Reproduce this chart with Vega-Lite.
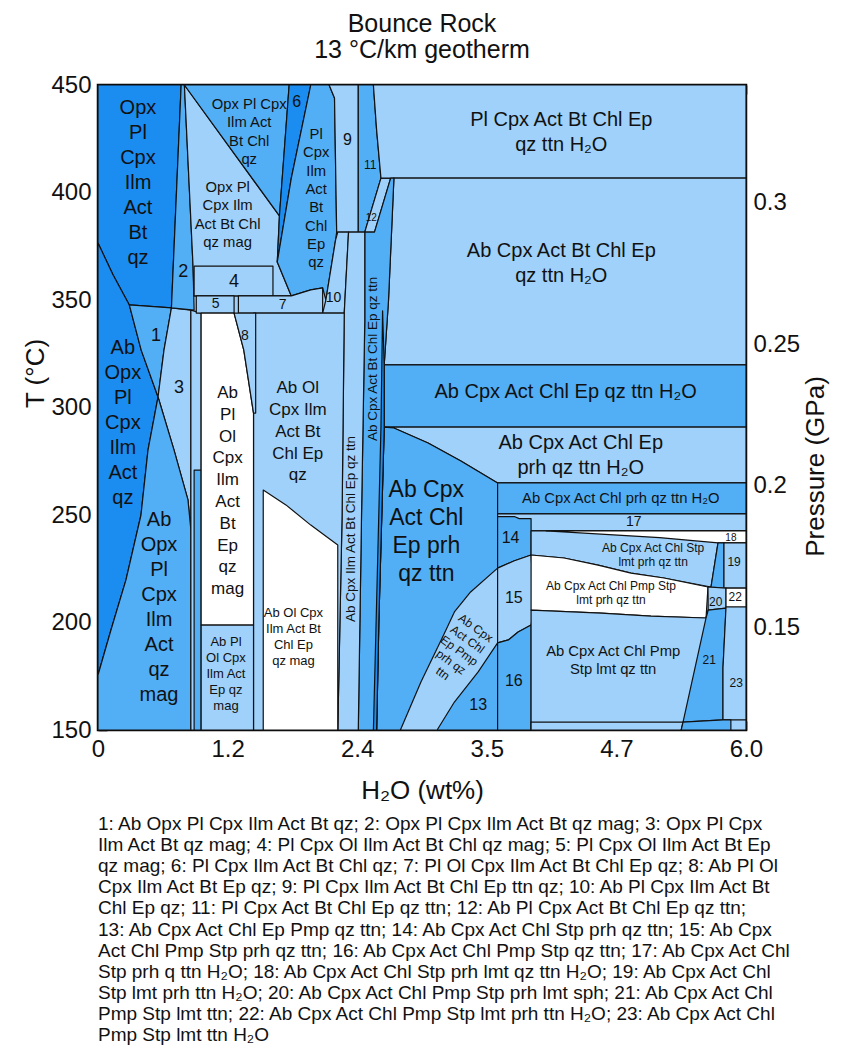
{
  "$schema": "https://vega.github.io/schema/vega-lite/v6.json",
  "background": "white",
  "padding": {"left": 21, "top": 10, "right": 5, "bottom": 5},
  "config": {
    "font": "Liberation Sans",
    "view": {"stroke": "#000", "strokeWidth": 2.5},
    "axis": {
      "grid": false, "domain": false, "ticks": true, "tickColor": "#000", "tickWidth": 1.6, "tickSize": -9,
      "labelFont": "Liberation Sans", "labelFontSize": 24, "labelColor": "#111", "labelPadding": 16,
      "labelFlush": false, "labelOverlap": false,
      "titleFont": "Liberation Sans", "titleFontSize": 26, "titleFontWeight": "normal", "titleColor": "#111"
    },
    "title": {"font": "Liberation Sans", "fontSize": 25, "fontWeight": "normal", "color": "#111"}
  },
  "datasets": {
    "regions": [
      {"id":"r01","tone":"L","i":0,"x":0,"T":450},{"id":"r01","tone":"L","i":1,"x":6,"T":450},{"id":"r01","tone":"L","i":2,"x":6,"T":150},{"id":"r01","tone":"L","i":3,"x":0,"T":150},
      {"id":"r02","tone":"D","i":0,"x":0,"T":450},{"id":"r02","tone":"D","i":1,"x":0.77,"T":450},{"id":"r02","tone":"D","i":2,"x":0.68,"T":346.3},{"id":"r02","tone":"D","i":3,"x":0.29,"T":347.7},{"id":"r02","tone":"D","i":4,"x":0.14,"T":361.6},{"id":"r02","tone":"D","i":5,"x":0,"T":376.5},
      {"id":"r03","tone":"D","i":0,"x":0,"T":376.5},{"id":"r03","tone":"D","i":1,"x":0.14,"T":361.6},{"id":"r03","tone":"D","i":2,"x":0.29,"T":347.7},{"id":"r03","tone":"D","i":3,"x":0.4,"T":326.7},{"id":"r03","tone":"D","i":4,"x":0.556,"T":304.9},{"id":"r03","tone":"D","i":5,"x":0.463,"T":280.2},{"id":"r03","tone":"D","i":6,"x":0.398,"T":250},{"id":"r03","tone":"D","i":7,"x":0.259,"T":219.8},{"id":"r03","tone":"D","i":8,"x":0.12,"T":196.5},{"id":"r03","tone":"D","i":9,"x":0,"T":175.6},
      {"id":"r04","tone":"M","i":0,"x":0.29,"T":347.7},{"id":"r04","tone":"M","i":1,"x":0.68,"T":346.3},{"id":"r04","tone":"M","i":2,"x":0.611,"T":326.7},{"id":"r04","tone":"M","i":3,"x":0.556,"T":304.9},{"id":"r04","tone":"M","i":4,"x":0.4,"T":326.7},
      {"id":"r05","tone":"L","i":0,"x":0.68,"T":346.3},{"id":"r05","tone":"L","i":1,"x":0.86,"T":345.3},{"id":"r05","tone":"L","i":2,"x":0.86,"T":243},{"id":"r05","tone":"L","i":3,"x":0.833,"T":257},{"id":"r05","tone":"L","i":4,"x":0.704,"T":280.2},{"id":"r05","tone":"L","i":5,"x":0.556,"T":304.9},{"id":"r05","tone":"L","i":6,"x":0.611,"T":326.7},
      {"id":"r06","tone":"M","i":0,"x":0.556,"T":304.9},{"id":"r06","tone":"M","i":1,"x":0.704,"T":280.2},{"id":"r06","tone":"M","i":2,"x":0.833,"T":257},{"id":"r06","tone":"M","i":3,"x":0.86,"T":243},{"id":"r06","tone":"M","i":4,"x":0.86,"T":150},{"id":"r06","tone":"M","i":5,"x":0,"T":150},{"id":"r06","tone":"M","i":6,"x":0,"T":175.6},{"id":"r06","tone":"M","i":7,"x":0.12,"T":196.5},{"id":"r06","tone":"M","i":8,"x":0.259,"T":219.8},{"id":"r06","tone":"M","i":9,"x":0.398,"T":250},{"id":"r06","tone":"M","i":10,"x":0.463,"T":280.2},
      {"id":"r07","tone":"L","i":0,"x":0.86,"T":345.3},{"id":"r07","tone":"L","i":1,"x":0.955,"T":343.9},{"id":"r07","tone":"L","i":2,"x":0.955,"T":150},{"id":"r07","tone":"L","i":3,"x":0.86,"T":150},
      {"id":"r08","tone":"M","i":0,"x":0.89,"T":270.9},{"id":"r08","tone":"M","i":1,"x":0.955,"T":270.9},{"id":"r08","tone":"M","i":2,"x":0.955,"T":150},{"id":"r08","tone":"M","i":3,"x":0.89,"T":150},
      {"id":"r09","tone":"M","i":0,"x":0.77,"T":450},{"id":"r09","tone":"M","i":1,"x":0.8,"T":450},{"id":"r09","tone":"M","i":2,"x":0.88,"T":365.8},{"id":"r09","tone":"M","i":3,"x":0.89,"T":345.3},{"id":"r09","tone":"M","i":4,"x":0.68,"T":346.3},
      {"id":"r10","tone":"L","i":0,"x":0.8,"T":450},{"id":"r10","tone":"L","i":1,"x":1.68,"T":389.1},{"id":"r10","tone":"L","i":2,"x":1.66,"T":367.7},{"id":"r10","tone":"L","i":3,"x":1.79,"T":351.9},{"id":"r10","tone":"L","i":4,"x":0.89,"T":351.9},{"id":"r10","tone":"L","i":5,"x":0.88,"T":365.8},
      {"id":"r11","tone":"M","i":0,"x":0.8,"T":450},{"id":"r11","tone":"M","i":1,"x":1.77,"T":450},{"id":"r11","tone":"M","i":2,"x":1.68,"T":389.1},
      {"id":"r12","tone":"D","i":0,"x":1.77,"T":450},{"id":"r12","tone":"D","i":1,"x":1.97,"T":450},{"id":"r12","tone":"D","i":2,"x":1.79,"T":406.7},{"id":"r12","tone":"D","i":3,"x":1.66,"T":367.7},{"id":"r12","tone":"D","i":4,"x":1.68,"T":389.1},
      {"id":"r13","tone":"M","i":0,"x":1.97,"T":450},{"id":"r13","tone":"M","i":1,"x":2.14,"T":450},{"id":"r13","tone":"M","i":2,"x":2.19,"T":444},{"id":"r13","tone":"M","i":3,"x":2.21,"T":381.6},{"id":"r13","tone":"M","i":4,"x":2.2,"T":378},{"id":"r13","tone":"M","i":5,"x":2.11,"T":350},{"id":"r13","tone":"M","i":6,"x":2.08,"T":355.6},{"id":"r13","tone":"M","i":7,"x":1.97,"T":354.7},{"id":"r13","tone":"M","i":8,"x":1.79,"T":351.9},{"id":"r13","tone":"M","i":9,"x":1.66,"T":367.7},{"id":"r13","tone":"M","i":10,"x":1.79,"T":406.7},
      {"id":"r14","tone":"L","i":0,"x":0.89,"T":365.8},{"id":"r14","tone":"L","i":1,"x":1.62,"T":365.8},{"id":"r14","tone":"L","i":2,"x":1.62,"T":351.9},{"id":"r14","tone":"L","i":3,"x":0.89,"T":351.9},
      {"id":"r15","tone":"L","i":0,"x":0.91,"T":351.9},{"id":"r15","tone":"L","i":1,"x":1.26,"T":351.9},{"id":"r15","tone":"L","i":2,"x":1.26,"T":343.9},{"id":"r15","tone":"L","i":3,"x":0.91,"T":343.9},
      {"id":"r16","tone":"L","i":0,"x":1.3,"T":351.9},{"id":"r16","tone":"L","i":1,"x":1.79,"T":351.9},{"id":"r16","tone":"L","i":2,"x":1.97,"T":354.7},{"id":"r16","tone":"L","i":3,"x":2.08,"T":355.6},{"id":"r16","tone":"L","i":4,"x":2.08,"T":343.9},{"id":"r16","tone":"L","i":5,"x":1.3,"T":343.9},
      {"id":"r17","tone":"L","i":0,"x":2.14,"T":450},{"id":"r17","tone":"L","i":1,"x":2.41,"T":450},{"id":"r17","tone":"L","i":2,"x":2.41,"T":381.6},{"id":"r17","tone":"L","i":3,"x":2.21,"T":381.6},{"id":"r17","tone":"L","i":4,"x":2.19,"T":444},
      {"id":"r18","tone":"M","i":0,"x":2.41,"T":450},{"id":"r18","tone":"M","i":1,"x":2.55,"T":450},{"id":"r18","tone":"M","i":2,"x":2.58,"T":429},{"id":"r18","tone":"M","i":3,"x":2.62,"T":406.7},{"id":"r18","tone":"M","i":4,"x":2.47,"T":381.6},{"id":"r18","tone":"M","i":5,"x":2.41,"T":381.6},
      {"id":"r19","tone":"L","i":0,"x":2.62,"T":406.7},{"id":"r19","tone":"L","i":1,"x":2.71,"T":406.7},{"id":"r19","tone":"L","i":2,"x":2.56,"T":381.6},{"id":"r19","tone":"L","i":3,"x":2.47,"T":381.6},
      {"id":"r20","tone":"L","i":0,"x":2.55,"T":450},{"id":"r20","tone":"L","i":1,"x":6,"T":450},{"id":"r20","tone":"L","i":2,"x":6,"T":406.7},{"id":"r20","tone":"L","i":3,"x":2.62,"T":406.7},{"id":"r20","tone":"L","i":4,"x":2.58,"T":429},
      {"id":"r21","tone":"L","i":0,"x":2.74,"T":406.7},{"id":"r21","tone":"L","i":1,"x":6,"T":406.7},{"id":"r21","tone":"L","i":2,"x":6,"T":319.8},{"id":"r21","tone":"L","i":3,"x":2.65,"T":319.8},{"id":"r21","tone":"L","i":4,"x":2.69,"T":350},
      {"id":"r22","tone":"M","i":0,"x":2.65,"T":319.8},{"id":"r22","tone":"M","i":1,"x":6,"T":319.8},{"id":"r22","tone":"M","i":2,"x":6,"T":290.9},{"id":"r22","tone":"M","i":3,"x":2.65,"T":290.9},
      {"id":"r23","tone":"L","i":0,"x":2.65,"T":290.9},{"id":"r23","tone":"L","i":1,"x":6,"T":290.9},{"id":"r23","tone":"L","i":2,"x":6,"T":264.9},{"id":"r23","tone":"L","i":3,"x":3.7,"T":264.9},{"id":"r23","tone":"L","i":4,"x":3.36,"T":275.1},{"id":"r23","tone":"L","i":5,"x":3.056,"T":283.5},{"id":"r23","tone":"L","i":6,"x":2.74,"T":290.5},
      {"id":"r24","tone":"M","i":0,"x":2.65,"T":290.9},{"id":"r24","tone":"M","i":1,"x":2.74,"T":290.5},{"id":"r24","tone":"M","i":2,"x":3.056,"T":283.5},{"id":"r24","tone":"M","i":3,"x":3.36,"T":275.1},{"id":"r24","tone":"M","i":4,"x":3.7,"T":264.9},{"id":"r24","tone":"M","i":5,"x":3.7,"T":150},{"id":"r24","tone":"M","i":6,"x":2.58,"T":150},{"id":"r24","tone":"M","i":7,"x":2.6,"T":200},
      {"id":"r25","tone":"M","i":0,"x":2.71,"T":406.7},{"id":"r25","tone":"M","i":1,"x":2.74,"T":406.7},{"id":"r25","tone":"M","i":2,"x":2.69,"T":350},{"id":"r25","tone":"M","i":3,"x":2.65,"T":319.8},{"id":"r25","tone":"M","i":4,"x":2.65,"T":290.9},{"id":"r25","tone":"M","i":5,"x":2.6,"T":200},{"id":"r25","tone":"M","i":6,"x":2.58,"T":150},{"id":"r25","tone":"M","i":7,"x":2.41,"T":150},{"id":"r25","tone":"M","i":8,"x":2.44,"T":250},{"id":"r25","tone":"M","i":9,"x":2.47,"T":340},{"id":"r25","tone":"M","i":10,"x":2.47,"T":381.6},{"id":"r25","tone":"M","i":11,"x":2.56,"T":381.6},
      {"id":"r26","tone":"D","i":0,"x":2.635,"T":345},{"id":"r26","tone":"D","i":1,"x":2.65,"T":319.8},{"id":"r26","tone":"D","i":2,"x":2.65,"T":290.9},{"id":"r26","tone":"D","i":3,"x":2.6,"T":200},{"id":"r26","tone":"D","i":4,"x":2.58,"T":150},{"id":"r26","tone":"D","i":5,"x":2.55,"T":150},{"id":"r26","tone":"D","i":6,"x":2.575,"T":200},{"id":"r26","tone":"D","i":7,"x":2.62,"T":290.9},
      {"id":"r27","tone":"L","i":0,"x":2.22,"T":381.6},{"id":"r27","tone":"L","i":1,"x":2.32,"T":381.6},{"id":"r27","tone":"L","i":2,"x":2.28,"T":343.9},{"id":"r27","tone":"L","i":3,"x":2.08,"T":343.9},{"id":"r27","tone":"L","i":4,"x":2.11,"T":350},{"id":"r27","tone":"L","i":5,"x":2.2,"T":378},
      {"id":"r28","tone":"L","i":0,"x":2.32,"T":381.6},{"id":"r28","tone":"L","i":1,"x":2.47,"T":381.6},{"id":"r28","tone":"L","i":2,"x":2.47,"T":340},{"id":"r28","tone":"L","i":3,"x":2.44,"T":250},{"id":"r28","tone":"L","i":4,"x":2.41,"T":150},{"id":"r28","tone":"L","i":5,"x":2.22,"T":150},{"id":"r28","tone":"L","i":6,"x":2.26,"T":250},{"id":"r28","tone":"L","i":7,"x":2.28,"T":343.9},
      {"id":"r29","tone":"L","i":0,"x":1.44,"T":343.9},{"id":"r29","tone":"L","i":1,"x":2.28,"T":343.9},{"id":"r29","tone":"L","i":2,"x":2.26,"T":250},{"id":"r29","tone":"L","i":3,"x":2.22,"T":150},{"id":"r29","tone":"L","i":4,"x":1.44,"T":150},
      {"id":"r30","tone":"W","i":0,"x":1.53,"T":261.6},{"id":"r30","tone":"W","i":1,"x":1.74,"T":254.7},{"id":"r30","tone":"W","i":2,"x":1.97,"T":245.3},{"id":"r30","tone":"W","i":3,"x":2.22,"T":236},{"id":"r30","tone":"W","i":4,"x":2.22,"T":150},{"id":"r30","tone":"W","i":5,"x":1.53,"T":150},
      {"id":"r31","tone":"W","i":0,"x":0.955,"T":343.9},{"id":"r31","tone":"W","i":1,"x":1.26,"T":343.9},{"id":"r31","tone":"W","i":2,"x":1.35,"T":326.7},{"id":"r31","tone":"W","i":3,"x":1.44,"T":297.4},{"id":"r31","tone":"W","i":4,"x":1.44,"T":198.8},{"id":"r31","tone":"W","i":5,"x":0.955,"T":198.8},
      {"id":"r32","tone":"L","i":0,"x":1.26,"T":343.9},{"id":"r32","tone":"L","i":1,"x":1.46,"T":343.9},{"id":"r32","tone":"L","i":2,"x":1.46,"T":297.4},{"id":"r32","tone":"L","i":3,"x":1.44,"T":297.4},{"id":"r32","tone":"L","i":4,"x":1.35,"T":326.7},
      {"id":"r33","tone":"L","i":0,"x":0.955,"T":198.8},{"id":"r33","tone":"L","i":1,"x":1.44,"T":198.8},{"id":"r33","tone":"L","i":2,"x":1.44,"T":150},{"id":"r33","tone":"L","i":3,"x":0.955,"T":150},
      {"id":"r34","tone":"L","i":0,"x":2.8,"T":150},{"id":"r34","tone":"L","i":1,"x":2.99,"T":172.3},{"id":"r34","tone":"L","i":2,"x":3.2,"T":194.2},{"id":"r34","tone":"L","i":3,"x":3.3,"T":204.9},{"id":"r34","tone":"L","i":4,"x":3.45,"T":214.2},{"id":"r34","tone":"L","i":5,"x":3.7,"T":225.3},{"id":"r34","tone":"L","i":6,"x":3.7,"T":190.5},{"id":"r34","tone":"L","i":7,"x":3.52,"T":177},{"id":"r34","tone":"L","i":8,"x":3.3,"T":163},{"id":"r34","tone":"L","i":9,"x":3.14,"T":150},
      {"id":"r35","tone":"M","i":0,"x":3.7,"T":264.9},{"id":"r35","tone":"M","i":1,"x":6,"T":264.9},{"id":"r35","tone":"M","i":2,"x":6,"T":250.5},{"id":"r35","tone":"M","i":3,"x":3.7,"T":250.5},
      {"id":"r36","tone":"L","i":0,"x":3.7,"T":250.5},{"id":"r36","tone":"L","i":1,"x":6,"T":250.5},{"id":"r36","tone":"L","i":2,"x":6,"T":242.6},{"id":"r36","tone":"L","i":3,"x":3.7,"T":242.6},
      {"id":"r37","tone":"M","i":0,"x":3.7,"T":249.2},{"id":"r37","tone":"M","i":1,"x":3.86,"T":249.2},{"id":"r37","tone":"M","i":2,"x":3.9,"T":248.3},{"id":"r37","tone":"M","i":3,"x":4.01,"T":248.3},{"id":"r37","tone":"M","i":4,"x":4.01,"T":231.4},{"id":"r37","tone":"M","i":5,"x":3.85,"T":228.6},{"id":"r37","tone":"M","i":6,"x":3.7,"T":225.3},
      {"id":"r38","tone":"L","i":0,"x":3.7,"T":225.3},{"id":"r38","tone":"L","i":1,"x":3.85,"T":228.6},{"id":"r38","tone":"L","i":2,"x":4.01,"T":231.4},{"id":"r38","tone":"L","i":3,"x":4.03,"T":215},{"id":"r38","tone":"L","i":4,"x":4.03,"T":205},{"id":"r38","tone":"L","i":5,"x":4.01,"T":198.8},{"id":"r38","tone":"L","i":6,"x":3.89,"T":195.6},{"id":"r38","tone":"L","i":7,"x":3.8,"T":191.9},{"id":"r38","tone":"L","i":8,"x":3.7,"T":190.5},
      {"id":"r39","tone":"M","i":0,"x":3.7,"T":190.5},{"id":"r39","tone":"M","i":1,"x":3.8,"T":191.9},{"id":"r39","tone":"M","i":2,"x":3.89,"T":195.6},{"id":"r39","tone":"M","i":3,"x":4.01,"T":198.8},{"id":"r39","tone":"M","i":4,"x":4.01,"T":150},{"id":"r39","tone":"M","i":5,"x":3.7,"T":150},
      {"id":"r40","tone":"L","i":0,"x":4.01,"T":242.6},{"id":"r40","tone":"L","i":1,"x":6,"T":242.6},{"id":"r40","tone":"L","i":2,"x":6,"T":237},{"id":"r40","tone":"L","i":3,"x":5.741,"T":237},{"id":"r40","tone":"L","i":4,"x":5.676,"T":216.5},{"id":"r40","tone":"L","i":5,"x":5.24,"T":220.7},{"id":"r40","tone":"L","i":6,"x":4.935,"T":223},{"id":"r40","tone":"L","i":7,"x":4.63,"T":226.7},{"id":"r40","tone":"L","i":8,"x":4.315,"T":230},{"id":"r40","tone":"L","i":9,"x":4.01,"T":231.4},
      {"id":"r41","tone":"W","i":0,"x":4.15,"T":242.6},{"id":"r41","tone":"W","i":1,"x":6,"T":242.6},{"id":"r41","tone":"W","i":2,"x":6,"T":237},{"id":"r41","tone":"W","i":3,"x":5.741,"T":237},{"id":"r41","tone":"W","i":4,"x":5.2,"T":239.5},
      {"id":"r42","tone":"M","i":0,"x":5.741,"T":237},{"id":"r42","tone":"M","i":1,"x":5.796,"T":237},{"id":"r42","tone":"M","i":2,"x":5.796,"T":216},{"id":"r42","tone":"M","i":3,"x":5.676,"T":216.5},
      {"id":"r43","tone":"L","i":0,"x":5.796,"T":237},{"id":"r43","tone":"L","i":1,"x":6,"T":237},{"id":"r43","tone":"L","i":2,"x":6,"T":216},{"id":"r43","tone":"L","i":3,"x":5.796,"T":216},
      {"id":"r44","tone":"W","i":0,"x":4.01,"T":231.4},{"id":"r44","tone":"W","i":1,"x":4.315,"T":230},{"id":"r44","tone":"W","i":2,"x":4.63,"T":226.7},{"id":"r44","tone":"W","i":3,"x":4.935,"T":223},{"id":"r44","tone":"W","i":4,"x":5.24,"T":220.7},{"id":"r44","tone":"W","i":5,"x":5.648,"T":216.5},{"id":"r44","tone":"W","i":6,"x":5.63,"T":202.1},{"id":"r44","tone":"W","i":7,"x":5.12,"T":203},{"id":"r44","tone":"W","i":8,"x":4.657,"T":204.4},{"id":"r44","tone":"W","i":9,"x":4.01,"T":205.8},
      {"id":"r45","tone":"L","i":0,"x":4.01,"T":205.8},{"id":"r45","tone":"L","i":1,"x":4.657,"T":204.4},{"id":"r45","tone":"L","i":2,"x":5.12,"T":203},{"id":"r45","tone":"L","i":3,"x":5.63,"T":202.1},{"id":"r45","tone":"L","i":4,"x":5.65,"T":205.8},{"id":"r45","tone":"L","i":5,"x":5.815,"T":206.7},{"id":"r45","tone":"L","i":6,"x":6,"T":207.2},{"id":"r45","tone":"L","i":7,"x":6,"T":150},{"id":"r45","tone":"L","i":8,"x":4.01,"T":150},
      {"id":"r46","tone":"L","i":0,"x":5.648,"T":216.5},{"id":"r46","tone":"L","i":1,"x":5.815,"T":216},{"id":"r46","tone":"L","i":2,"x":5.815,"T":206.7},{"id":"r46","tone":"L","i":3,"x":5.65,"T":205.8},
      {"id":"r47","tone":"W","i":0,"x":5.815,"T":216},{"id":"r47","tone":"W","i":1,"x":6,"T":216},{"id":"r47","tone":"W","i":2,"x":6,"T":207.2},{"id":"r47","tone":"W","i":3,"x":5.815,"T":207.2},
      {"id":"r48","tone":"M","i":0,"x":5.63,"T":202.1},{"id":"r48","tone":"M","i":1,"x":5.65,"T":205.8},{"id":"r48","tone":"M","i":2,"x":5.815,"T":206.7},{"id":"r48","tone":"M","i":3,"x":5.787,"T":178.8},{"id":"r48","tone":"M","i":4,"x":5.787,"T":154.7},{"id":"r48","tone":"M","i":5,"x":5.417,"T":153.7},
      {"id":"r49","tone":"L","i":0,"x":5.815,"T":207.2},{"id":"r49","tone":"L","i":1,"x":6,"T":207.2},{"id":"r49","tone":"L","i":2,"x":6,"T":154.7},{"id":"r49","tone":"L","i":3,"x":5.787,"T":154.7},{"id":"r49","tone":"L","i":4,"x":5.787,"T":178.8},
      {"id":"r50","tone":"L","i":0,"x":4.01,"T":153.7},{"id":"r50","tone":"L","i":1,"x":5.417,"T":153.7},{"id":"r50","tone":"L","i":2,"x":5.4,"T":150},{"id":"r50","tone":"L","i":3,"x":4.01,"T":150},
      {"id":"r51","tone":"M","i":0,"x":5.417,"T":153.7},{"id":"r51","tone":"M","i":1,"x":5.787,"T":154.7},{"id":"r51","tone":"M","i":2,"x":5.86,"T":154.7},{"id":"r51","tone":"M","i":3,"x":5.86,"T":150},{"id":"r51","tone":"M","i":4,"x":5.4,"T":150}
    ],
    "labels": [
      {"grp":"g1","txt":"Opx\nPl\nCpx\nIlm\nAct\nBt\nqz","x":0.37,"T":439.3},
      {"grp":"g1","txt":"Ab\nOpx\nPl\nCpx\nIlm\nAct\nqz","x":0.23,"T":327.7},
      {"grp":"g1","txt":"Ab\nOpx\nPl\nCpx\nIlm\nAct\nqz\nmag","x":0.565,"T":247.7},
      {"grp":"g2","txt":"Ab Cpx\nAct Chl\nEp prh\nqz ttn","x":3.04,"T":261.6},
      {"grp":"g3","txt":"Pl Cpx Act Bt Chl Ep\nqz ttn H₂O","x":4.29,"T":433.7},
      {"grp":"g3","txt":"Ab Cpx Act Bt Chl Ep\nqz ttn H₂O","x":4.29,"T":372.8},
      {"grp":"g3","txt":"Ab Cpx Act Chl Ep qz ttn H₂O","x":4.33,"T":307.2},
      {"grp":"g3","txt":"Ab Cpx Act Chl Ep\nprh qz ttn H₂O","x":4.47,"T":283.5},
      {"grp":"g4","txt":"Ab\nPl\nOl\nCpx\nIlm\nAct\nBt\nEp\nqz\nmag","x":1.2,"T":306.7},
      {"grp":"g4","txt":"Ab Ol\nCpx Ilm\nAct Bt\nChl Ep\nqz","x":1.85,"T":309},
      {"grp":"g5","txt":"Opx Pl Cpx\nIlm Act\nBt Chl\nqz","x":1.4,"T":440.7},
      {"grp":"g5","txt":"Opx Pl\nCpx Ilm\nAct Bt Chl\nqz mag","x":1.2,"T":402.1},
      {"grp":"g5","txt":"Pl\nCpx\nIlm\nAct\nBt\nChl\nEp\nqz","x":2.02,"T":426.7},
      {"grp":"g5","txt":"Ab Cpx Act Chl Pmp\nStp lmt qz ttn","x":4.77,"T":186.3},
      {"grp":"g5","txt":"Ab Cpx Act Chl prh qz ttn H₂O","x":4.84,"T":257.4},
      {"grp":"g6","txt":"Ab Ol Cpx\nIlm Act Bt\nChl Ep\nqz mag","x":1.81,"T":204.4},
      {"grp":"g6","txt":"Ab Pl\nOl Cpx\nIlm Act\nEp qz\nmag","x":1.185,"T":190.9},
      {"grp":"g7","txt":"Ab Cpx Act Chl Stp\nlmt prh qz ttn","x":5.14,"T":234.7},
      {"grp":"g7","txt":"Ab Cpx Act Chl Pmp Stp\nlmt prh qz ttn","x":4.75,"T":217.0},
      {"grp":"g8","txt":"Ab Cpx Ilm Act Bt Chl Ep qz ttn","x":2.34,"T":243.5},
      {"grp":"g8","txt":"Ab Cpx Act Bt Chl Ep qz ttn","x":2.546,"T":322.6},
      {"grp":"g9","txt":"Ab Cpx\nAct Chl\nEp Pmp\nprh qz\nttn","x":3.497,"T":197.4},
      {"grp":"n18","txt":"1","x":0.537,"T":333.3},
      {"grp":"n18","txt":"2","x":0.79,"T":363},
      {"grp":"n18","txt":"3","x":0.75,"T":309},
      {"grp":"n18","txt":"4","x":1.26,"T":358.4},
      {"grp":"n16","txt":"6","x":1.84,"T":442.1},
      {"grp":"n16","txt":"9","x":2.31,"T":424.4},
      {"grp":"n16","txt":"13","x":3.52,"T":161.6},
      {"grp":"n16","txt":"14","x":3.82,"T":239.3},
      {"grp":"n16","txt":"15","x":3.85,"T":211.4},
      {"grp":"n16","txt":"16","x":3.85,"T":172.8},
      {"grp":"n14","txt":"5","x":1.09,"T":348},
      {"grp":"n14","txt":"7","x":1.71,"T":347.7},
      {"grp":"n14","txt":"8","x":1.36,"T":333.3},
      {"grp":"n14","txt":"10","x":2.18,"T":351},
      {"grp":"n14","txt":"17","x":4.96,"T":246.7},
      {"grp":"n12","txt":"11","x":2.52,"T":412.8},
      {"grp":"n12","txt":"19","x":5.89,"T":228.1},
      {"grp":"n12","txt":"20","x":5.72,"T":209.5},
      {"grp":"n12","txt":"21","x":5.66,"T":182.6},
      {"grp":"n12","txt":"22","x":5.9,"T":211.9},
      {"grp":"n12","txt":"23","x":5.91,"T":171.9},
      {"grp":"n10","txt":"12","x":2.53,"T":388.1},
      {"grp":"n10","txt":"18","x":5.86,"T":239.3}
    ],
    "pressure": [{"P":0.15},{"P":0.2},{"P":0.25},{"P":0.3}],
    "notes": [
      {"n":1,"txt":"1: Ab Opx Pl Cpx Ilm Act Bt qz; 2: Opx Pl Cpx Ilm Act Bt qz mag; 3: Opx Pl Cpx"},
      {"n":2,"txt":"Ilm Act Bt qz mag; 4: Pl Cpx Ol Ilm Act Bt Chl qz mag; 5: Pl Cpx Ol Ilm Act Bt Ep"},
      {"n":3,"txt":"qz mag; 6: Pl Cpx Ilm Act Bt Chl qz;  7: Pl Ol Cpx Ilm Act Bt Chl Ep qz; 8: Ab Pl Ol"},
      {"n":4,"txt":"Cpx Ilm Act Bt Ep qz; 9: Pl Cpx Ilm Act Bt Chl Ep ttn qz; 10: Ab Pl Cpx Ilm Act Bt"},
      {"n":5,"txt":"Chl Ep qz; 11: Pl Cpx Act Bt Chl Ep qz ttn; 12: Ab Pl Cpx Act Bt Chl Ep qz ttn;"},
      {"n":6,"txt":"13: Ab Cpx Act Chl Ep Pmp qz ttn; 14: Ab Cpx Act Chl Stp prh qz ttn; 15: Ab Cpx"},
      {"n":7,"txt":"Act Chl Pmp Stp prh qz ttn; 16: Ab Cpx Act Chl Pmp Stp qz ttn; 17: Ab Cpx Act Chl"},
      {"n":8,"txt":"Stp prh q ttn H₂O; 18: Ab Cpx Act Chl Stp prh lmt qz ttn H₂O; 19: Ab Cpx Act Chl"},
      {"n":9,"txt":"Stp lmt prh ttn H₂O; 20: Ab Cpx Act Chl Pmp Stp prh lmt sph; 21: Ab Cpx Act Chl"},
      {"n":10,"txt":"Pmp Stp lmt ttn; 22: Ab Cpx Act Chl Pmp Stp lmt prh ttn H₂O; 23: Ab Cpx Act Chl"},
      {"n":11,"txt":"Pmp Stp lmt ttn H₂O"}
    ]
  },
  "spacing": 8,
  "vconcat": [
    {
      "title": {"text": ["Bounce Rock", "13 °C/km geotherm"], "frame": "group", "anchor": "middle", "lineHeight": 26, "offset": 10},
      "width": 648,
      "height": 645,
      "resolve": {"scale": {"y": "independent"}, "axis": {"x": "independent", "y": "independent"}},
      "layer": [
        {
          "layer": [
            {
              "data": {"name": "regions"},
              "mark": {"type": "line", "interpolate": "linear-closed", "filled": true, "stroke": "#111", "strokeWidth": 1.2, "strokeJoin": "round"},
              "encoding": {
                "x": {"field": "x", "type": "quantitative", "scale": {"domain": [0, 6], "nice": false, "zero": false},
                      "axis": {"orient": "bottom", "title": "H₂O (wt%)", "values": [0, 0.6, 1.2, 1.8, 2.4, 3, 3.6, 4.2, 4.8, 5.4, 6],
                               "labelExpr": "datum.value == 0 ? '0' : datum.value == 1.2 ? '1.2' : datum.value == 2.4 ? '2.4' : datum.value == 3.6 ? '3.5' : datum.value == 4.8 ? '4.7' : datum.value == 6 ? '6.0' : ''",
                               "titlePadding": 16}},
                "y": {"field": "T", "type": "quantitative", "scale": {"domain": [150, 450], "nice": false, "zero": false},
                      "axis": {"orient": "left", "title": "T (°C)", "values": [150, 175, 200, 225, 250, 275, 300, 325, 350, 375, 400, 425, 450],
                               "labelExpr": "datum.value % 50 == 0 ? datum.label : ''", "titlePadding": 2, "titleY": 288}},
                "detail": {"field": "id", "type": "nominal"},
                "order": {"field": "i", "type": "quantitative"},
                "color": {"field": "tone", "type": "nominal", "legend": null,
                          "scale": {"domain": ["D", "M", "L", "W"], "range": ["#1b8cf0", "#52aff6", "#a0d1fa", "#ffffff"]}}
              }
            },
            {
              "data": {"name": "labels"},
              "transform": [{"filter": "datum.grp == 'g1'"}],
              "mark": {"type": "text", "fontSize": 20, "lineHeight": 25, "lineBreak": "\n", "color": "#111", "align": "center", "baseline": "middle"},
              "encoding": {"x": {"field": "x", "type": "quantitative"}, "y": {"field": "T", "type": "quantitative"}, "text": {"field": "txt"}}
            },
            {
              "data": {"name": "labels"},
              "transform": [{"filter": "datum.grp == 'g2'"}],
              "mark": {"type": "text", "fontSize": 23, "lineHeight": 28, "lineBreak": "\n", "color": "#111", "align": "center", "baseline": "middle"},
              "encoding": {"x": {"field": "x", "type": "quantitative"}, "y": {"field": "T", "type": "quantitative"}, "text": {"field": "txt"}}
            },
            {
              "data": {"name": "labels"},
              "transform": [{"filter": "datum.grp == 'g3'"}],
              "mark": {"type": "text", "fontSize": 20, "lineHeight": 25, "lineBreak": "\n", "color": "#111", "align": "center", "baseline": "middle"},
              "encoding": {"x": {"field": "x", "type": "quantitative"}, "y": {"field": "T", "type": "quantitative"}, "text": {"field": "txt"}}
            },
            {
              "data": {"name": "labels"},
              "transform": [{"filter": "datum.grp == 'g4'"}],
              "mark": {"type": "text", "fontSize": 17, "lineHeight": 21.8, "lineBreak": "\n", "color": "#111", "align": "center", "baseline": "middle"},
              "encoding": {"x": {"field": "x", "type": "quantitative"}, "y": {"field": "T", "type": "quantitative"}, "text": {"field": "txt"}}
            },
            {
              "data": {"name": "labels"},
              "transform": [{"filter": "datum.grp == 'g5'"}],
              "mark": {"type": "text", "fontSize": 14.8, "lineHeight": 18.3, "lineBreak": "\n", "color": "#111", "align": "center", "baseline": "middle"},
              "encoding": {"x": {"field": "x", "type": "quantitative"}, "y": {"field": "T", "type": "quantitative"}, "text": {"field": "txt"}}
            },
            {
              "data": {"name": "labels"},
              "transform": [{"filter": "datum.grp == 'g6'"}],
              "mark": {"type": "text", "fontSize": 13, "lineHeight": 16, "lineBreak": "\n", "color": "#111", "align": "center", "baseline": "middle"},
              "encoding": {"x": {"field": "x", "type": "quantitative"}, "y": {"field": "T", "type": "quantitative"}, "text": {"field": "txt"}}
            },
            {
              "data": {"name": "labels"},
              "transform": [{"filter": "datum.grp == 'g7'"}],
              "mark": {"type": "text", "fontSize": 12, "lineHeight": 14, "lineBreak": "\n", "color": "#111", "align": "center", "baseline": "middle"},
              "encoding": {"x": {"field": "x", "type": "quantitative"}, "y": {"field": "T", "type": "quantitative"}, "text": {"field": "txt"}}
            },
            {
              "data": {"name": "labels"},
              "transform": [{"filter": "datum.grp == 'g8'"}],
              "mark": {"type": "text", "fontSize": 13.5, "angle": 270, "color": "#111", "align": "center", "baseline": "middle"},
              "encoding": {"x": {"field": "x", "type": "quantitative"}, "y": {"field": "T", "type": "quantitative"}, "text": {"field": "txt"}}
            },
            {
              "data": {"name": "labels"},
              "transform": [{"filter": "datum.grp == 'g9'"}],
              "mark": {"type": "text", "fontSize": 12, "lineHeight": 14, "lineBreak": "\n", "angle": 36, "color": "#111", "align": "center", "baseline": "middle"},
              "encoding": {"x": {"field": "x", "type": "quantitative"}, "y": {"field": "T", "type": "quantitative"}, "text": {"field": "txt"}}
            },
            {
              "data": {"name": "labels"},
              "transform": [{"filter": "datum.grp == 'n18'"}],
              "mark": {"type": "text", "fontSize": 18, "color": "#111", "align": "center", "baseline": "middle"},
              "encoding": {"x": {"field": "x", "type": "quantitative"}, "y": {"field": "T", "type": "quantitative"}, "text": {"field": "txt"}}
            },
            {
              "data": {"name": "labels"},
              "transform": [{"filter": "datum.grp == 'n16'"}],
              "mark": {"type": "text", "fontSize": 16, "color": "#111", "align": "center", "baseline": "middle"},
              "encoding": {"x": {"field": "x", "type": "quantitative"}, "y": {"field": "T", "type": "quantitative"}, "text": {"field": "txt"}}
            },
            {
              "data": {"name": "labels"},
              "transform": [{"filter": "datum.grp == 'n14'"}],
              "mark": {"type": "text", "fontSize": 14, "color": "#111", "align": "center", "baseline": "middle"},
              "encoding": {"x": {"field": "x", "type": "quantitative"}, "y": {"field": "T", "type": "quantitative"}, "text": {"field": "txt"}}
            },
            {
              "data": {"name": "labels"},
              "transform": [{"filter": "datum.grp == 'n12'"}],
              "mark": {"type": "text", "fontSize": 12, "color": "#111", "align": "center", "baseline": "middle"},
              "encoding": {"x": {"field": "x", "type": "quantitative"}, "y": {"field": "T", "type": "quantitative"}, "text": {"field": "txt"}}
            },
            {
              "data": {"name": "labels"},
              "transform": [{"filter": "datum.grp == 'n10'"}],
              "mark": {"type": "text", "fontSize": 10, "color": "#111", "align": "center", "baseline": "middle"},
              "encoding": {"x": {"field": "x", "type": "quantitative"}, "y": {"field": "T", "type": "quantitative"}, "text": {"field": "txt"}}
            }
          ]
        },
        {
          "data": {"name": "pressure"},
          "mark": {"type": "point", "opacity": 0},
          "encoding": {
            "x": {"datum": 6, "type": "quantitative",
                  "axis": {"orient": "top", "labels": false, "title": null, "values": [0, 0.6, 1.2, 1.8, 2.4, 3, 3.6, 4.2, 4.8, 5.4, 6]}},
            "y": {"field": "P", "type": "quantitative", "scale": {"domain": [0.1138, 0.3414], "nice": false, "zero": false},
                  "axis": {"orient": "right", "title": "Pressure (GPa)", "values": [0.15, 0.2, 0.25, 0.3], "format": "~g",
                           "titleAngle": 270, "titleBaseline": "top", "titlePadding": 3, "titleY": 381}}
          }
        }
      ]
    },
    {
      "data": {"name": "notes"},
      "width": 648,
      "height": 233,
      "view": {"stroke": null},
      "mark": {"type": "text", "align": "left", "baseline": "middle", "fontSize": 19, "color": "#111"},
      "encoding": {
        "x": {"datum": 0, "type": "quantitative", "scale": {"domain": [0, 6]}, "axis": null},
        "y": {"field": "n", "type": "ordinal", "axis": null, "scale": {"type": "point", "padding": 0.5}},
        "text": {"field": "txt"}
      }
    }
  ]
}
